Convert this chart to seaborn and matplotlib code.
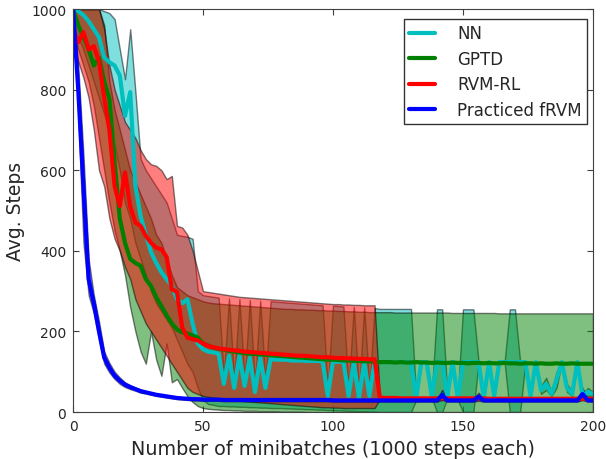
import numpy as np
import pandas as pd
import matplotlib
matplotlib.use('Agg')
import matplotlib.pyplot as plt
import seaborn as sns

# minibatch index, sampled every 2 minibatches
steps = list(range(0, 201, 2))

methods = ['NN', 'GPTD', 'RVM-RL', 'Practiced fRVM']
colours = ['c', 'g', 'r', 'b']

nn_mean = [1000, 995, 985, 970, 950, 930, 880, 868, 860, 835,
           735, 794, 561, 486, 440, 397, 370, 347, 330, 313,
           280, 270, 280, 220, 170, 156, 150, 148, 145, 70,
           140, 60, 140, 65, 135, 50, 135, 60, 132, 130,
           130, 130, 128, 128, 128, 127, 127, 127, 126, 40,
           126, 125, 125, 40, 125, 35, 125, 40, 125, 124,
           124, 124, 124, 124, 124, 124, 35, 124, 124, 40,
           124, 124, 40, 124, 35, 124, 124, 124, 124, 35,
           124, 40, 124, 124, 124, 124, 124, 124, 40, 124,
           55, 70, 45, 80, 124, 60, 45, 124, 40, 50,
           45]
nn_low = [950, 930, 900, 860, 820, 780, 740, 700, 660, 600,
          520, 480, 420, 380, 340, 300, 270, 250, 230, 210,
          180, 150, 120, 100, 60, 30, 20, 18, 15, 15,
          14, 14, 13, 13, 12, 12, 11, 11, 10, 10,
          10, 9, 9, 8, 8, 7, 7, 6, 6, 5,
          5, 4, 4, 3, 3, 2, 2, 1, 1, 0,
          0, 0, 0, 0, 0, 0, 30, 124, 124, 35,
          0, 0, 35, 124, 30, 0, 0, 0, 124, 30,
          124, 35, 124, 124, 0, 0, 0, 124, 35, 124,
          45, 55, 40, 60, 124, 50, 40, 124, 35, 40,
          40]
nn_high = [1000, 1000, 1000, 1000, 1000, 1000, 995, 990, 975, 900,
           826, 950, 794, 628, 600, 580, 560, 540, 520, 480,
           440, 437, 435, 430, 300, 290, 288, 286, 284, 90,
           282, 80, 280, 80, 278, 70, 276, 80, 275, 274,
           273, 272, 271, 270, 269, 268, 267, 266, 265, 60,
           264, 263, 262, 60, 261, 50, 260, 60, 258, 256,
           256, 256, 256, 256, 256, 256, 40, 124, 124, 45,
           255, 255, 45, 124, 40, 255, 255, 255, 124, 40,
           124, 45, 124, 124, 255, 255, 124, 124, 45, 124,
           65, 85, 50, 100, 124, 70, 50, 124, 45, 60,
           50]

gptd_mean = [1000, 960, 930, 900, 860, 880, 820, 777, 620, 480,
             420, 380, 370, 363, 330, 313, 285, 263, 240, 220,
             205, 198, 195, 190, 185, 170, 165, 160, 157, 155,
             152, 150, 148, 146, 145, 144, 143, 142, 141, 140,
             139, 138, 137, 136, 135, 134, 133, 132, 131, 130,
             130, 129, 128, 128, 127, 127, 126, 126, 125, 124,
             124, 124, 123, 124, 123, 123, 124, 123, 123, 122,
             123, 122, 122, 123, 122, 122, 121, 122, 122, 121,
             122, 121, 121, 122, 121, 121, 120, 121, 121, 120,
             121, 120, 120, 121, 120, 120, 121, 120, 120, 120,
             120]
gptd_low = [950, 900, 860, 820, 760, 680, 600, 520, 450, 400,
            340, 260, 200, 150, 120, 200, 130, 90, 170, 74,
            82, 60, 40, 25, 15, 10, 8, 7, 6, 5,
            5, 4, 4, 3, 3, 3, 2, 2, 2, 2,
            1, 1, 1, 1, 1, 0, 0, 0, 0, 0,
            0, 0, 0, 0, 0, 0, 0, 0, 0, 0,
            0, 0, 0, 0, 0, 0, 0, 0, 0, 0,
            0, 0, 0, 0, 0, 0, 0, 0, 0, 0,
            0, 0, 0, 0, 0, 0, 0, 0, 0, 0,
            0, 0, 0, 0, 0, 0, 0, 0, 0, 0,
            0]
gptd_high = [1000, 1000, 1000, 1000, 1000, 1000, 960, 820, 750, 700,
             650, 600, 570, 540, 510, 480, 440, 420, 380, 340,
             310, 300, 290, 285, 280, 275, 272, 270, 269, 268,
             267, 266, 265, 264, 263, 262, 261, 260, 259, 258,
             257, 256, 256, 255, 255, 254, 254, 253, 253, 252,
             252, 251, 251, 250, 250, 249, 249, 248, 248, 248,
             248, 248, 247, 247, 247, 247, 247, 247, 247, 247,
             247, 247, 247, 246, 246, 246, 246, 246, 246, 246,
             246, 246, 245, 245, 245, 245, 245, 245, 245, 245,
             245, 245, 245, 245, 245, 245, 245, 245, 245, 245,
             245]

rvm_mean = [943, 918, 943, 900, 908, 870, 780, 700, 561, 511,
            595, 510, 470, 462, 437, 420, 408, 404, 385, 305,
            298, 210, 185, 181, 178, 170, 164, 161, 158, 156,
            155, 153, 152, 150, 149, 148, 147, 146, 145, 144,
            143, 142, 141, 140, 140, 139, 138, 137, 136, 136,
            135, 134, 134, 133, 133, 132, 132, 131, 131, 36,
            35, 35, 35, 34, 34, 34, 34, 34, 34, 34,
            34, 34, 34, 34, 34, 34, 34, 34, 34, 34,
            33, 33, 33, 33, 33, 33, 33, 33, 33, 33,
            33, 33, 33, 33, 33, 33, 33, 33, 33, 33,
            33]
rvm_low = [900, 870, 830, 780, 700, 600, 560, 480, 430, 400,
           360, 330, 280, 250, 220, 200, 180, 160, 140, 120,
           100, 80, 60, 50, 45, 40, 38, 36, 34, 32,
           30, 29, 28, 27, 26, 25, 24, 23, 22, 21,
           20, 19, 18, 17, 16, 15, 14, 13, 12, 12,
           11, 11, 10, 10, 10, 10, 10, 10, 10, 32,
           32, 32, 31, 31, 31, 31, 31, 31, 31, 31,
           31, 31, 31, 31, 31, 31, 31, 31, 31, 31,
           30, 30, 30, 30, 30, 30, 30, 30, 30, 30,
           30, 30, 30, 30, 30, 30, 30, 30, 30, 30,
           30]
rvm_high = [1000, 1000, 1000, 1000, 1000, 1000, 950, 860, 800, 760,
            720, 700, 680, 650, 628, 615, 611, 600, 578, 586,
            462, 458, 440, 400, 350, 300, 298, 296, 294, 292,
            290, 288, 286, 285, 284, 283, 282, 281, 280, 279,
            278, 277, 276, 275, 274, 273, 272, 271, 270, 269,
            268, 268, 267, 267, 266, 266, 265, 265, 265, 39,
            38, 38, 38, 37, 37, 37, 37, 37, 37, 37,
            37, 37, 37, 37, 37, 37, 37, 37, 37, 37,
            36, 36, 36, 36, 36, 36, 36, 36, 36, 36,
            36, 36, 36, 36, 36, 36, 36, 36, 36, 36,
            36]

frvm_mean = [1000, 800, 560, 330, 270, 200, 135, 110, 90, 78,
             68, 62, 57, 52, 49, 46, 43, 41, 39, 37,
             35, 34, 33, 32, 32, 31, 31, 31, 31, 30,
             30, 30, 30, 30, 30, 30, 30, 30, 30, 30,
             30, 30, 30, 30, 30, 30, 30, 30, 30, 30,
             29, 29, 29, 29, 29, 29, 29, 29, 29, 29,
             29, 29, 29, 29, 29, 29, 29, 29, 29, 29,
             29, 42, 29, 29, 29, 29, 29, 29, 38, 29,
             29, 29, 29, 29, 29, 29, 29, 29, 29, 29,
             29, 29, 29, 29, 29, 29, 29, 29, 45, 29,
             29]
frvm_low = [1000, 740, 420, 290, 245, 180, 120, 98, 82, 70,
            62, 57, 53, 48, 46, 43, 40, 38, 36, 34,
            32, 31, 30, 29, 29, 28, 28, 28, 28, 27,
            27, 27, 27, 27, 27, 27, 27, 27, 27, 27,
            27, 27, 27, 27, 27, 27, 27, 27, 27, 27,
            26, 26, 26, 26, 26, 26, 26, 26, 26, 26,
            26, 26, 26, 26, 26, 26, 26, 26, 26, 26,
            26, 30, 26, 26, 26, 26, 26, 26, 28, 26,
            26, 26, 26, 26, 26, 26, 26, 26, 26, 26,
            26, 26, 26, 26, 26, 26, 26, 26, 30, 26,
            26]
frvm_high = [1000, 860, 640, 380, 290, 225, 150, 122, 100, 86,
             74, 67, 61, 56, 52, 49, 46, 44, 42, 40,
             38, 37, 36, 35, 35, 34, 34, 34, 34, 33,
             33, 33, 33, 33, 33, 33, 33, 33, 33, 33,
             33, 33, 33, 33, 33, 33, 33, 33, 33, 33,
             32, 32, 32, 32, 32, 32, 32, 32, 32, 32,
             32, 32, 32, 32, 32, 32, 32, 32, 32, 32,
             32, 55, 32, 32, 32, 32, 32, 32, 48, 32,
             32, 32, 32, 32, 32, 32, 32, 32, 32, 32,
             32, 32, 32, 32, 32, 32, 32, 32, 60, 32,
             32]

means = [nn_mean, gptd_mean, rvm_mean, frvm_mean]
lows = [nn_low, gptd_low, rvm_low, frvm_low]
highs = [nn_high, gptd_high, rvm_high, frvm_high]

frames = []
for name, m in zip(methods, means):
    frames.append(pd.DataFrame({'minibatch': steps, 'steps': m, 'method': name}))
df = pd.concat(frames, ignore_index=True)

sns.set_style('ticks', {'xtick.direction': 'in', 'ytick.direction': 'in',
                        'axes.edgecolor': '0.25'})
plt.rcParams['font.family'] = ['DejaVu Sans']
plt.rcParams['xtick.top'] = True
plt.rcParams['ytick.right'] = True

fig = plt.figure(figsize=(6.06, 4.6), dpi=100)
ax = fig.add_axes([0.1205, 0.102, 0.858, 0.876])

# shaded spread first, one per method
for col, lo, hi in zip(colours, lows, highs):
    ax.fill_between(steps, lo, hi, facecolor=col, edgecolor='k', linewidth=1, alpha=0.5)

sns.lineplot(data=df, x='minibatch', y='steps', hue='method', hue_order=methods,
             palette=colours, linewidth=3, legend=False, ax=ax)

ax.set_xlim(0, 200)
ax.set_ylim(0, 1000)
ax.set_xticks([0, 50, 100, 150, 200])
ax.set_yticks([0, 200, 400, 600, 800, 1000])
ax.tick_params(labelsize=10, length=4, width=0.8, color='0.25', pad=5)
ax.set_xlabel('Number of minibatches (1000 steps each)', fontsize=13.8)
ax.set_ylabel('Avg. Steps', fontsize=13.5)

leg = ax.legend(ax.get_lines()[:4], methods, loc='upper right', fontsize=12,
                fancybox=False, framealpha=1, edgecolor='0.2', handlelength=1.6,
                borderpad=0.3, labelspacing=0.45, handletextpad=1.3,
                bbox_to_anchor=(1.004, 0.995))
leg.get_frame().set_linewidth(1)

plt.savefig('out.png', dpi=100)
